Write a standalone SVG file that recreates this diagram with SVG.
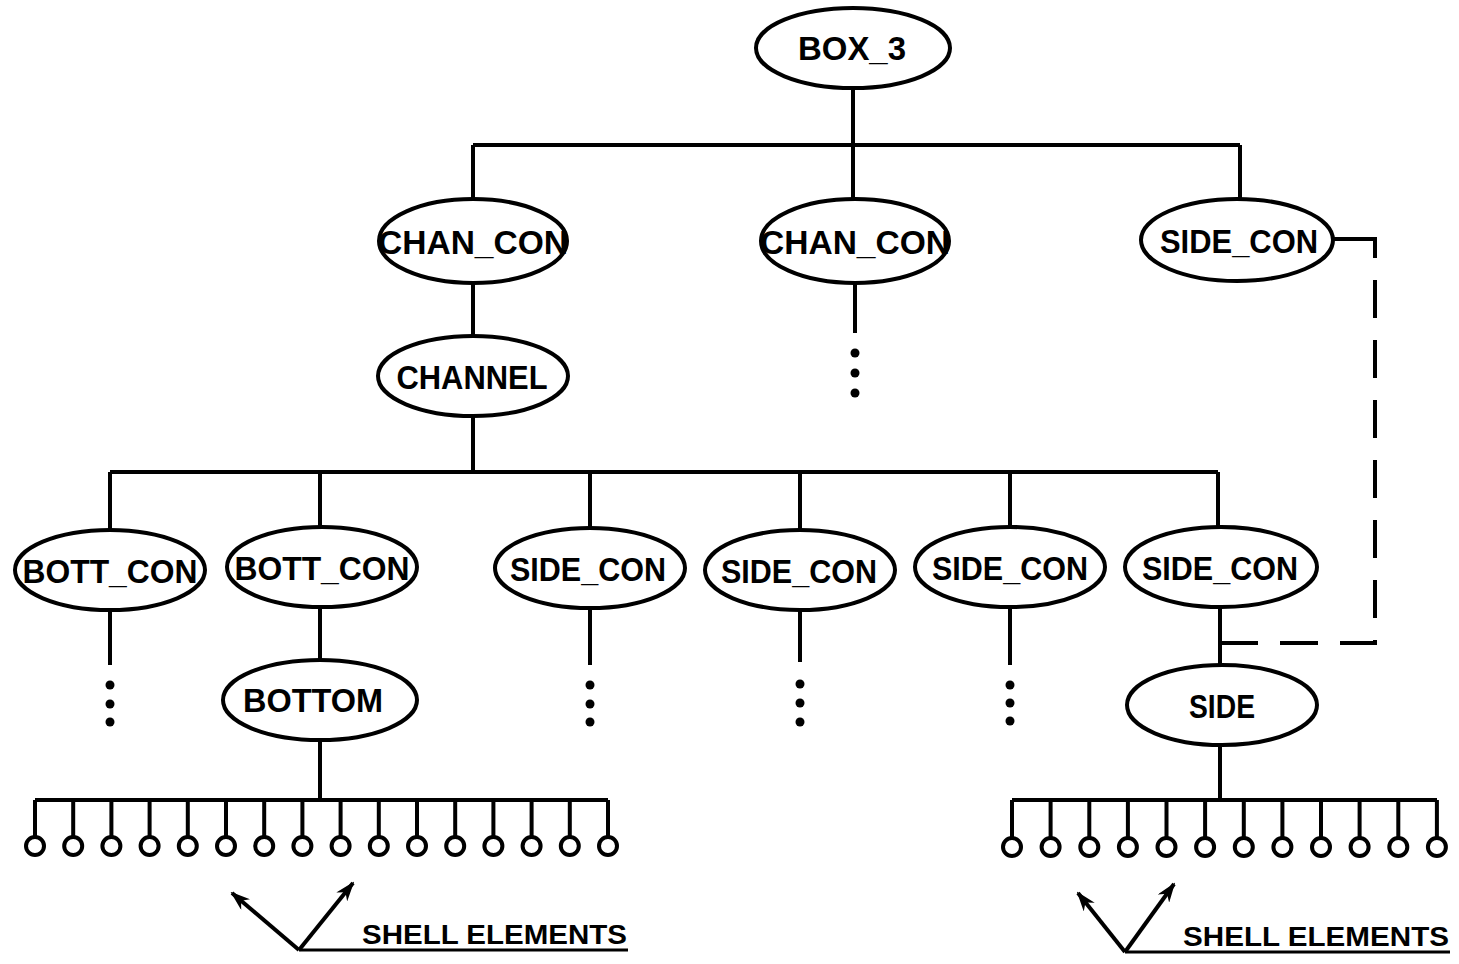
<svg xmlns="http://www.w3.org/2000/svg" width="1459" height="964" viewBox="0 0 1459 964">
<style>
.e{fill:#fff;stroke:#000;stroke-width:4}
.t{font-family:"Liberation Sans",Arial,sans-serif;font-weight:bold;font-size:34px;fill:#000;text-anchor:middle}
.s{font-family:"Liberation Sans",Arial,sans-serif;font-weight:bold;font-size:28px;fill:#000}
.l{fill:none;stroke:#000;stroke-width:4}
.d{fill:none;stroke:#000;stroke-width:4;stroke-dasharray:38 22}
.dot{fill:#000}
.c{fill:#fff;stroke:#000;stroke-width:4}
</style>
<defs>
<marker id="ah" viewBox="0 0 20 14" refX="18" refY="7" markerWidth="20" markerHeight="14" markerUnits="userSpaceOnUse" orient="auto">
<path d="M0 0 L20 7 L0 14 L6 7 Z" fill="#000"/>
</marker>
</defs>
<g id="connectors">
<path class="l" d="M853 88 V145 M473 145 H1240 M473 145 V200 M853 145 V200 M1240 145 V199"/>
<path class="l" d="M473 283 V336 M473 416 V472 M110 472 H1218"/>
<path class="l" d="M110 472 V530 M320 472 V527 M590 472 V528 M800 472 V530 M1010 472 V527 M1218 472 V527"/>
<path class="l" d="M855 283 V333"/>
<circle class="dot" cx="855" cy="353" r="4.5"/><circle class="dot" cx="855" cy="373" r="4.5"/><circle class="dot" cx="855" cy="393" r="4.5"/>
<path class="l" d="M110 610 V665 M590 608 V665 M800 610 V662 M1010 607 V665"/>
<circle class="dot" cx="110" cy="685" r="4.5"/><circle class="dot" cx="110" cy="704" r="4.5"/><circle class="dot" cx="110" cy="722" r="4.5"/>
<circle class="dot" cx="590" cy="685" r="4.5"/><circle class="dot" cx="590" cy="704" r="4.5"/><circle class="dot" cx="590" cy="722" r="4.5"/>
<circle class="dot" cx="800" cy="684" r="4.5"/><circle class="dot" cx="800" cy="703" r="4.5"/><circle class="dot" cx="800" cy="722" r="4.5"/>
<circle class="dot" cx="1010" cy="685" r="4.5"/><circle class="dot" cx="1010" cy="703" r="4.5"/><circle class="dot" cx="1010" cy="721" r="4.5"/>
<path class="l" d="M320 607 V661 M320 740 V800 M1220 607 V665 M1220 745 V800"/>
<path class="l" d="M1333 239 H1375 V258"/>
<path class="d" d="M1375 280 V643 H1222"/>
<path class="l" d="M35 800 H608 M1012 800 H1437"/>
<g id="leaves-left">
<path class="l" d="M35 800 V836 M73.2 800 V836 M111.4 800 V836 M149.6 800 V836 M187.8 800 V836 M226 800 V836 M264.2 800 V836 M302.4 800 V836 M340.6 800 V836 M378.8 800 V836 M417 800 V836 M455.2 800 V836 M493.4 800 V836 M531.6 800 V836 M569.8 800 V836 M608 800 V836"/>
<circle class="c" cx="35" cy="846" r="9"/><circle class="c" cx="73.2" cy="846" r="9"/><circle class="c" cx="111.4" cy="846" r="9"/><circle class="c" cx="149.6" cy="846" r="9"/><circle class="c" cx="187.8" cy="846" r="9"/><circle class="c" cx="226" cy="846" r="9"/><circle class="c" cx="264.2" cy="846" r="9"/><circle class="c" cx="302.4" cy="846" r="9"/><circle class="c" cx="340.6" cy="846" r="9"/><circle class="c" cx="378.8" cy="846" r="9"/><circle class="c" cx="417" cy="846" r="9"/><circle class="c" cx="455.2" cy="846" r="9"/><circle class="c" cx="493.4" cy="846" r="9"/><circle class="c" cx="531.6" cy="846" r="9"/><circle class="c" cx="569.8" cy="846" r="9"/><circle class="c" cx="608" cy="846" r="9"/>
</g>
<g id="leaves-right">
<path class="l" d="M1012 800 V837 M1050.6 800 V837 M1089.3 800 V837 M1127.9 800 V837 M1166.5 800 V837 M1205.1 800 V837 M1243.8 800 V837 M1282.4 800 V837 M1321 800 V837 M1359.6 800 V837 M1398.3 800 V837 M1436.9 800 V837"/>
<circle class="c" cx="1012" cy="847" r="9"/><circle class="c" cx="1050.6" cy="847" r="9"/><circle class="c" cx="1089.3" cy="847" r="9"/><circle class="c" cx="1127.9" cy="847" r="9"/><circle class="c" cx="1166.5" cy="847" r="9"/><circle class="c" cx="1205.1" cy="847" r="9"/><circle class="c" cx="1243.8" cy="847" r="9"/><circle class="c" cx="1282.4" cy="847" r="9"/><circle class="c" cx="1321" cy="847" r="9"/><circle class="c" cx="1359.6" cy="847" r="9"/><circle class="c" cx="1398.3" cy="847" r="9"/><circle class="c" cx="1436.9" cy="847" r="9"/>
</g>
<g id="shell-arrows">
<path class="l" d="M299 950 L232 893" marker-end="url(#ah)"/>
<path class="l" d="M299 950 L353 883" marker-end="url(#ah)"/>
<path class="l" style="stroke-width:3" d="M299 950 H628"/>
<path class="l" d="M1125 952 L1078 893" marker-end="url(#ah)"/>
<path class="l" d="M1125 952 L1174 884" marker-end="url(#ah)"/>
<path class="l" style="stroke-width:3" d="M1125 952 H1450"/>
</g>
</g>
<g id="box3"><ellipse class="e" cx="853" cy="48" rx="97" ry="40"/><text class="t" x="852" y="60" textLength="108" lengthAdjust="spacingAndGlyphs">BOX_3</text></g>
<g id="chan_con_1"><ellipse class="e" cx="473" cy="241" rx="94" ry="42"/><text class="t" x="473" y="254" textLength="190" lengthAdjust="spacingAndGlyphs">CHAN_CON</text></g>
<g id="chan_con_2"><ellipse class="e" cx="855" cy="241" rx="94" ry="42"/><text class="t" x="855" y="254" textLength="190" lengthAdjust="spacingAndGlyphs">CHAN_CON</text></g>
<g id="side_con_top"><ellipse class="e" cx="1237" cy="240" rx="96" ry="41"/><text class="t" x="1239" y="253" textLength="158" lengthAdjust="spacingAndGlyphs">SIDE_CON</text></g>
<g id="channel"><ellipse class="e" cx="473" cy="376" rx="95" ry="40"/><text class="t" x="472" y="389" textLength="151" lengthAdjust="spacingAndGlyphs">CHANNEL</text></g>
<g id="bott_con_1"><ellipse class="e" cx="110" cy="570" rx="95" ry="40"/><text class="t" x="110" y="583" textLength="175" lengthAdjust="spacingAndGlyphs">BOTT_CON</text></g>
<g id="bott_con_2"><ellipse class="e" cx="322" cy="567" rx="95" ry="40"/><text class="t" x="322" y="580" textLength="175" lengthAdjust="spacingAndGlyphs">BOTT_CON</text></g>
<g id="side_con_1"><ellipse class="e" cx="590" cy="568" rx="95" ry="40"/><text class="t" x="588" y="581" textLength="156" lengthAdjust="spacingAndGlyphs">SIDE_CON</text></g>
<g id="side_con_2"><ellipse class="e" cx="800" cy="570" rx="95" ry="40"/><text class="t" x="799" y="583" textLength="156" lengthAdjust="spacingAndGlyphs">SIDE_CON</text></g>
<g id="side_con_3"><ellipse class="e" cx="1010" cy="567" rx="95" ry="40"/><text class="t" x="1010" y="580" textLength="156" lengthAdjust="spacingAndGlyphs">SIDE_CON</text></g>
<g id="side_con_4"><ellipse class="e" cx="1221" cy="567" rx="96" ry="40"/><text class="t" x="1220" y="580" textLength="156" lengthAdjust="spacingAndGlyphs">SIDE_CON</text></g>
<g id="bottom"><ellipse class="e" cx="320" cy="700" rx="97" ry="40"/><text class="t" x="313" y="712" textLength="140" lengthAdjust="spacingAndGlyphs">BOTTOM</text></g>
<g id="side"><ellipse class="e" cx="1222" cy="705" rx="95" ry="40"/><text class="t" x="1222" y="718" textLength="66" lengthAdjust="spacingAndGlyphs">SIDE</text></g>
<g id="labels">
<text class="s" x="362" y="944" textLength="265" lengthAdjust="spacingAndGlyphs">SHELL ELEMENTS</text>
<text class="s" x="1183" y="946" textLength="266" lengthAdjust="spacingAndGlyphs">SHELL ELEMENTS</text>
</g>
</svg>
